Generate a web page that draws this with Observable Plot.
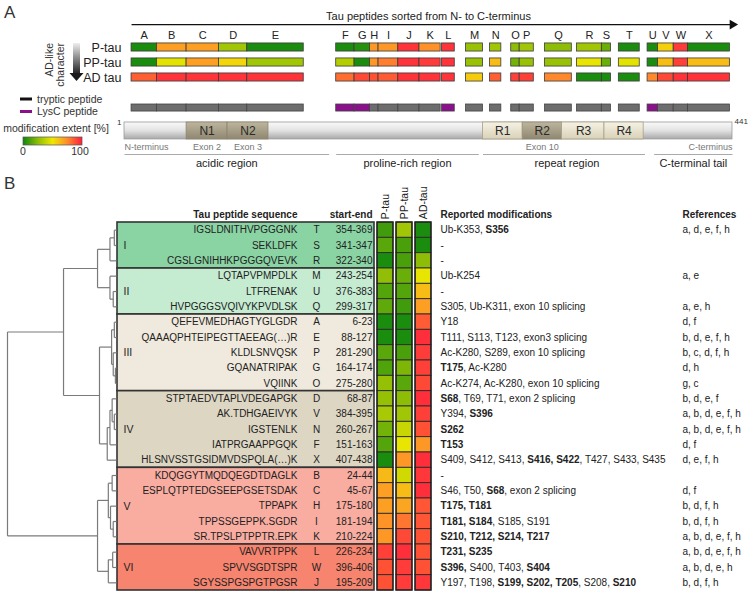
<!DOCTYPE html>
<html><head><meta charset="utf-8">
<script src="https://cdn.jsdelivr.net/npm/d3@7"></script>
<script src="https://cdn.jsdelivr.net/npm/@observablehq/plot@0.6"></script>
<style>
html,body{margin:0;padding:0;background:#fff;}
#fig{position:relative;width:750px;height:594px;overflow:hidden;font-family:"Liberation Sans",Arial,sans-serif;color:#222;}
#fig > svg{position:absolute;left:0;top:0;}
.panel{position:absolute;font-size:17px;color:#333;line-height:1;}
</style></head><body>
<div id="fig">
<div class="panel" style="left:4px;top:4px;">A</div>
<div class="panel" style="left:4px;top:175px;">B</div>
<svg id="legend" width="140" height="170" font-family="Liberation Sans, Arial, sans-serif">
  <defs>
    <linearGradient id="gArrow" x1="0" y1="0" x2="0" y2="1"><stop offset="0" stop-color="#efefef"/><stop offset="1" stop-color="#262626"/></linearGradient>
    <linearGradient id="gScale" x1="0" y1="0" x2="1" y2="0">
      <stop offset="0" stop-color="#0c860f"/><stop offset="0.25" stop-color="#8dbd07"/><stop offset="0.5" stop-color="#efe800"/><stop offset="0.75" stop-color="#ff8d2c"/><stop offset="1" stop-color="#ff1c3e"/>
    </linearGradient>
  </defs>
  <text transform="translate(53,43) rotate(-90)" text-anchor="end" font-size="10.5" fill="#333">AD-like</text>
  <text transform="translate(64,43) rotate(-90)" text-anchor="end" font-size="10.5" fill="#333">character</text>
  <rect x="73" y="43" width="7" height="30" fill="url(#gArrow)"/>
  <polygon points="69.5,73 83.5,73 76.5,81" fill="#1a1a1a"/>
  <line x1="20" x2="32" y1="99" y2="99" stroke="#111" stroke-width="3"/>
  <text x="37" y="102.5" font-size="10.5" fill="#333">tryptic peptide</text>
  <line x1="20" x2="32" y1="111.5" y2="111.5" stroke="#8b0f8b" stroke-width="3"/>
  <text x="37" y="115" font-size="10.5" fill="#333">LysC peptide</text>
  <text x="56" y="132" font-size="10.5" fill="#333" text-anchor="middle">modification extent [%]</text>
  <rect x="23" y="137" width="59" height="8" fill="url(#gScale)" stroke="#555" stroke-width="0.7"/>
  <text x="23" y="155" font-size="10.5" fill="#333" text-anchor="middle">0</text>
  <text x="80" y="155" font-size="10.5" fill="#333" text-anchor="middle">100</text>
</svg>
</div>
<script>
// ---------------- data ----------------
const peptideLetters = ["A","B","C","D","E","F","G","H","I","J","K","L","M","N","O","P","Q","R","S","T","U","V","W","X"];
const peptideStart = [6,24,45,68,88,151,164,175,181,195,210,226,243,260,275,281,299,322,341,354,376,384,396,407];
const peptideEnd   = [23,44,67,87,127,163,174,180,194,209,224,234,254,267,280,290,317,340,347,369,383,395,406,438];
const lysCPeptides = ["F","G","L","U"];
const samplesA = ["P-tau","PP-tau","AD tau"];
const extentA_Ptau  = [3,70,70,30,3, 3,5,72,72,95,74,95, 28,30, 25,30, 25, 30,18, 3, 3,57,93,3];
const extentA_PPtau = [3,47,70,55,30, 35,3,72,78,95,93,95, 28,62, 20,28, 28, 48,18, 47, 3,62,92,62];
const extentA_ADtau = [85,95,95,95,95, 82,90,88,86,95,95,95, 58,85, 92,92, 76, 3,3, 3, 76,90,95,95];
const domainNames = ["N1","N2","R1","R2","R3","R4"];
const domainStart = [45,74,255,283,311,343];
const domainEnd   = [74,103,283,311,343,373];
const proteinLength = 441;
const regionNames = ["acidic region","proline-rich region","repeat region","C-terminal tail"];
const regionStart = [1,151,255,381];
const regionEnd   = [146,252,374,441];
const landmarkLabels = ["N-terminus","Exon 2","Exon 3","Exon 10","C-terminus"];
const landmarkResidue = [1,59.5,88.5,297,441];

const leafOrder = ["T","S","R","M","U","Q","A","E","P","G","O","D","V","N","F","X","B","C","H","I","K","L","W","J"];
const sequencesB = ["IGSLDNITHVPGGGNK","SEKLDFK","CGSLGNIHHKPGGGQVEVK","LQTAPVPMPDLK","LTFRENAK","HVPGGGSVQIVYKPVDLSK",
  "QEFEVMEDHAGTYGLGDR","QAAAQPHTEIPEGTTAEEAG(…)R","KLDLSNVQSK","GQANATRIPAK","VQIINK",
  "STPTAEDVTAPLVDEGAPGK","AK.TDHGAEIVYK","IGSTENLK","IATPRGAAPPGQK","HLSNVSSTGSIDMVDSPQLA(…)K",
  "KDQGGYTMQDQEGDTDAGLK","ESPLQTPTEDGSEEPGSETSDAK","TPPAPK","TPPSSGEPPK.SGDR","SR.TPSLPTPPTR.EPK",
  "VAVVRTPPK","SPVVSGDTSPR","SGYSSPGSPGTPGSR"];
const modificationsB = ["Ub-K353, *S356*","-","-","Ub-K254","-","S305, Ub-K311, exon 10 splicing",
  "Y18","T111, S113, T123, exon3 splicing","Ac-K280, S289, exon 10 splicing","*T175*, Ac-K280","Ac-K274, Ac-K280, exon 10 splicing",
  "*S68*, T69, T71, exon 2 splicing","Y394, *S396*","*S262*","*T153*","S409, S412, S413, *S416, S422*, T427, S433, S435",
  "-","S46, T50, *S68*, exon 2 splicing","*T175, T181*","*T181, S184*, S185, S191","*S210, T212, S214, T217*",
  "*T231, S235*","*S396,* S400, T403, *S404*","Y197, T198, *S199, S202, T205*, S208, *S210*"];
const referencesB = ["a, d, e, f, h","","","a, e","","a, e, h","d, f","b, d, e, f, h","b, c, d, f, h","d, h","g, c",
  "b, d, e, f","a, b, d, e, f, h","a, b, d, e, f, h","d, f","d, e, f, h","","d, f","b, d, f, h","b, d, f, h",
  "a, b, d, e, f, h","a, b, d, e, f, h","a, b, d, e, h","b, d, f, h"];
const samplesB = ["P-tau","PP-tau","AD-tau"];
const extentB_Ptau  = [10,15,3,26,14,16, 3,3,15,13,27, 27,32,20,14,3, 63,70,70,73,72, 92,88,88];
const extentB_PPtau = [30,12,12,18,14,10, 3,3,12,22,15, 25,30,40,48,72, 42,62,68,80,90, 96,93,93];
const extentB_ADtau = [3,3,25,48,62,70, 86,96,93,92,90, 96,92,88,72,96, 94,96,87,87,88, 88,88,94];
const clusterNames = ["I","II","III","IV","V","VI"];
const clusterSizes = [3,3,5,5,5,3];
// hierarchical clustering (h = linkage distance, relative)
const dendrogram = {h:1, c:[
  {h:0.486, c:[
    {h:0.174, c:[ {h:0.06, c:[{h:0.02, c:["T","S"]},"R"]}, {h:0.06, c:["M",{h:0.03, c:["U","Q"]}]} ]},
    {h:0.156, c:[ {h:0.045, c:[{h:0.02, c:["A","E"]},{h:0.03, c:["P",{h:0.01, c:["G","O"]}]}]},
                  {h:0.085, c:[{h:0.06, c:[{h:0.04, c:["D",{h:0.02, c:["V","N"]}]},"F"]},"X"]} ]}
  ]},
  {h:0.174, c:[ {h:0.075, c:[{h:0.04, c:["B","C"]},{h:0.055, c:["H",{h:0.03, c:["I","K"]}]}]},
                {h:0.075, c:[{h:0.035, c:["L","W"]},"J"]} ]}
]};

// ---------------- styles ----------------
const colorScale = {type:"linear", domain:[0,25,50,75,100], range:["#0c860f","#8dbd07","#efe800","#ff8d2c","#ff1c3e"]};
const clusterFill = ["#8ad4a4","#c5ebd1","#efeadd","#ddd6c3","#f9ada1","#f6846f"];
const domainShade = ["dark","dark","light","dark","light","light"];
const font = "Liberation Sans, Arial, sans-serif";

// ---------------- panel A ----------------
const peptides = peptideLetters.map((l,i)=>({letter:l, start:peptideStart[i], end:peptideEnd[i], lysC: lysCPeptides.includes(l)}));
const extA = [extentA_Ptau, extentA_PPtau, extentA_ADtau];
const barsA = samplesA.flatMap((s,si)=>peptides.map((p,i)=>({...p, row:si, value: extA[si][i]})));
const domains = domainNames.map((n,i)=>({name:n, start:domainStart[i], end:domainEnd[i], shade:domainShade[i]}));
const regions = regionNames.map((n,i)=>({name:n, start:regionStart[i], end:regionEnd[i]}));
const landmarks = landmarkLabels.map((n,i)=>({name:n, pos:landmarkResidue[i], anchor: i===0?"start":(i===landmarkLabels.length-1?"end":"middle")}));
const protein = [{start:1, end:proteinLength}];
const landmarkMarks = ["start","middle","end"].map(a=>
  Plot.text(landmarks.filter(d=>d.anchor===a), {x:"pos", y:6.67, text:"name", textAnchor:a, fontSize:9, fill:"#777"}));

const svgA = Plot.plot({
  width:750, height:175, marginLeft:124, marginRight:18, marginTop:0, marginBottom:0,
  x:{type:"linear", domain:[1,317,441], range:[124,570,732], axis:null},
  y:{domain:[0,4], range:[47,107], axis:null},
  color: colorScale,
  style:{background:"transparent", fontFamily:font, overflow:"visible"},
  marks:[
    Plot.text(["Tau peptides sorted from N- to C-terminus"], {frameAnchor:"top", dy:12, text:d=>d, fontSize:11, fill:"#222"}),
    Plot.link([{a:peptideStart[0], b:proteinLength}], {x1:"a", x2:"b", y1:-1.53, y2:-1.53, stroke:"#111", strokeWidth:1.3}),
    Plot.dot([proteinLength], {x:d=>d, y:-1.53, symbol:"triangle", rotate:90, r:3.6, fill:"#111", stroke:null}),
    Plot.text(peptides, {x:d=>(d.start+d.end+1)/2, y:-0.8, text:"letter", fontSize:11, fill:"#222"}),
    Plot.rect(barsA, {x1:"start", x2:d=>d.end+1, y1:d=>d.row-0.27, y2:d=>d.row+0.27, fill:"value", stroke:"#3a3a3a", strokeWidth:0.8}),
    Plot.text(samplesA, {y:(d,i)=>i, text:d=>d, frameAnchor:"left", textAnchor:"end", dx:-3, fontSize:12.5, fill:"#222"}),
    Plot.rect(peptides.filter(p=>!p.lysC), {x1:"start", x2:d=>d.end+1, y1:3.8, y2:4.27, fill:"#6d6d6d", stroke:"#444", strokeWidth:0.8}),
    Plot.rect(peptides.filter(p=>p.lysC), {x1:"start", x2:d=>d.end+1, y1:3.8, y2:4.27, fill:"#8b108b", stroke:"#444", strokeWidth:0.8}),
    Plot.rect(protein, {x1:"start", x2:"end", y1:5.0, y2:6.13, fill:"url(#gBar)", stroke:"#9a9a9a", strokeWidth:0.8}),
    Plot.rect(domains.filter(d=>d.shade==="dark"), {x1:"start", x2:"end", y1:5.0, y2:6.13, fill:"url(#gDark)", stroke:"#8c8470", strokeWidth:0.8}),
    Plot.rect(domains.filter(d=>d.shade==="light"), {x1:"start", x2:"end", y1:5.0, y2:6.13, fill:"url(#gLight)", stroke:"#a8a088", strokeWidth:0.8}),
    Plot.text(domains, {x:d=>(d.start+d.end)/2, y:5.6, text:"name", fontSize:12, fill:"#2a2a2a"}),
    Plot.text(["1"], {x:protein[0].start, y:4.98, text:d=>d, dx:-3, textAnchor:"end", fontSize:8, fill:"#333"}),
    Plot.text([String(proteinLength)], {x:proteinLength, y:4.95, text:d=>d, dx:2, textAnchor:"start", fontSize:8, fill:"#333"}),
    ...landmarkMarks,
    Plot.link(regions, {x1:"start", x2:"end", y1:7.13, y2:7.13, stroke:"#aaa", strokeWidth:1.1}),
    Plot.text(regions, {x:d=>(d.start+d.end)/2, y:7.75, text:"name", fontSize:11, fill:"#222"})
  ]
});
d3.select(svgA).insert("defs", ":first-child").html(`
  <linearGradient id="gBar" x1="0" y1="0" x2="0" y2="1"><stop offset="0" stop-color="#fafafa"/><stop offset="0.5" stop-color="#e2e2e2"/><stop offset="1" stop-color="#a9a9a9"/></linearGradient>
  <linearGradient id="gDark" x1="0" y1="0" x2="0" y2="1"><stop offset="0" stop-color="#bdb59d"/><stop offset="1" stop-color="#8f8770"/></linearGradient>
  <linearGradient id="gLight" x1="0" y1="0" x2="0" y2="1"><stop offset="0" stop-color="#f6f2e4"/><stop offset="1" stop-color="#d9d2b8"/></linearGradient>`);

// ---------------- panel B ----------------
const nRows = leafOrder.length;
const rowsB = leafOrder.map((l,i)=>{const k = peptideLetters.indexOf(l);
  return {letter:l, i, seq:sequencesB[i], range:`${peptideStart[k]}-${peptideEnd[k]}`, mods:modificationsB[i], refs:referencesB[i]};});
const extB = [extentB_Ptau, extentB_PPtau, extentB_ADtau];
const cellsB = samplesB.flatMap((s,c)=>extB[c].map((v,i)=>({col:c, i, value:v})));
let acc = 0;
const clustersB = clusterNames.map((n,j)=>{const first = acc; acc += clusterSizes[j]; return {name:n, j, first, last:acc-1};});

const svgB = Plot.plot({
  width:750, height:594, marginLeft:117, marginRight:376, marginTop:0, marginBottom:0,
  x:{domain:[0,2], range:[385,423], axis:null},
  y:{domain:[-0.5, nRows-0.5], range:[222,590], axis:null},
  color: colorScale,
  style:{background:"transparent", fontFamily:font, fontSize:"10px", overflow:"visible"},
  marks:[
    ...clustersB.map(c=>Plot.rect([c], {y1:d=>d.first-0.5, y2:d=>d.last+0.5, fill:clusterFill[c.j], stroke:"#333", strokeWidth:1.6})),
    Plot.text(clustersB, {y:d=>(d.first+d.last)/2, text:"name", frameAnchor:"left", textAnchor:"start", dx:6, fontSize:10.5, fill:"#222"}),
    Plot.text(["Tau peptide sequence"], {y:-1.02, text:d=>d, frameAnchor:"right", textAnchor:"end", dx:-77, fontWeight:"bold", fill:"#222"}),
    Plot.text(["start-end"], {y:-1.02, text:d=>d, frameAnchor:"right", textAnchor:"end", dx:-2, fontWeight:"bold", fill:"#222"}),
    Plot.text(rowsB, {y:"i", text:"seq", frameAnchor:"right", textAnchor:"end", dx:-77, fill:"#222"}),
    Plot.text(rowsB, {y:"i", text:"letter", frameAnchor:"right", textAnchor:"middle", dx:-58, fill:"#222"}),
    Plot.text(rowsB, {y:"i", text:"range", frameAnchor:"right", textAnchor:"end", dx:-2, fill:"#222"}),
    Plot.rect(cellsB, {x1:d=>d.col-0.42, x2:d=>d.col+0.42, y1:d=>d.i-0.5, y2:d=>d.i+0.5, fill:"value", stroke:"#2b2b2b", strokeWidth:0.9}),
    Plot.rect(samplesB, {x1:(d,c)=>c-0.42, x2:(d,c)=>c+0.42, y1:-0.5, y2:nRows-0.5, fill:"none", stroke:"#222", strokeWidth:1.4}),
    Plot.text(samplesB, {x:(d,c)=>c, y:-0.72, text:d=>d, rotate:-90, textAnchor:"start", fontSize:10.5, fill:"#222"}),
    Plot.text(["Reported modifications"], {y:-1.02, text:d=>d, frameAnchor:"right", textAnchor:"start", dx:66, fontWeight:"bold", fill:"#222"}),
    Plot.text(["References"], {y:-1.02, text:d=>d, frameAnchor:"right", textAnchor:"start", dx:308, fontWeight:"bold", fill:"#222"}),
    Plot.text(rowsB, {y:"i", text:"mods", frameAnchor:"right", textAnchor:"start", dx:66, fill:"#222"}),
    Plot.text(rowsB, {y:"i", text:"refs", frameAnchor:"right", textAnchor:"start", dx:308, fill:"#222"})
  ]
});
// rich text: *bold* segments
d3.select(svgB).selectAll("text").each(function(){
  const t = this.textContent;
  if (!t.includes("*")) return;
  const parts = t.split("*");
  this.textContent = "";
  parts.forEach((p,k)=>{ if (!p) return;
    const ts = document.createElementNS("http://www.w3.org/2000/svg","tspan");
    ts.textContent = p; if (k%2===1) ts.setAttribute("font-weight","bold");
    this.appendChild(ts); });
});

// ---------------- dendrogram ----------------
const segs = [];
function layoutTree(node){
  if (typeof node === "string") return {y: leafOrder.indexOf(node), h:0};
  const kids = node.c.map(layoutTree);
  const ys = kids.map(k=>k.y);
  const y0 = Math.min(...ys), y1 = Math.max(...ys);
  segs.push({x1:node.h, x2:node.h, y1:y0, y2:y1});
  kids.forEach(k=>segs.push({x1:node.h, x2:k.h, y1:k.y, y2:k.y}));
  return {y:(y0+y1)/2, h:node.h};
}
layoutTree(dendrogram);
const svgD = Plot.plot({
  width:750, height:594, margin:0,
  x:{domain:[1,0], range:[7,116], axis:null},
  y:{domain:[-0.5, nRows-0.5], range:[222,590], axis:null},
  style:{background:"transparent", overflow:"visible"},
  marks:[Plot.link(segs, {x1:"x1", x2:"x2", y1:"y1", y2:"y2", stroke:"#7a7a7a", strokeWidth:1.2})]
});

const fig = document.getElementById("fig");
[svgB, svgD, svgA].forEach(s=>{ s.style.position="absolute"; s.style.left="0px"; s.style.top="0px"; fig.appendChild(s); });
</script>
</body></html>
